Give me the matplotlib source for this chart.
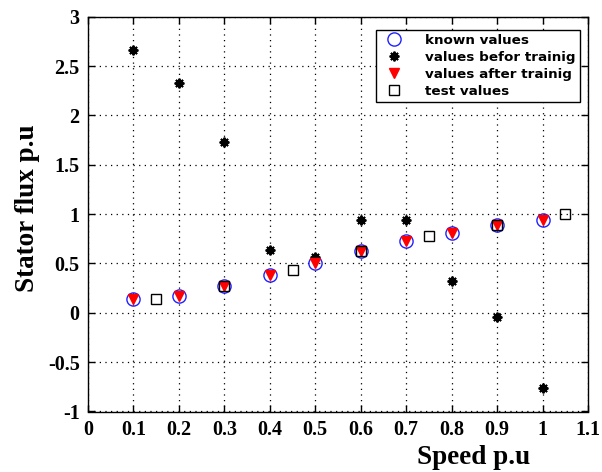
import matplotlib
matplotlib.use("Agg")
import matplotlib.pyplot as plt

# Data
speed = [0.1, 0.2, 0.3, 0.4, 0.5, 0.6, 0.7, 0.8, 0.9, 1.0]
known_flux = [0.142, 0.166, 0.27, 0.38, 0.504, 0.626, 0.727, 0.81, 0.886, 0.94]
before_flux = [2.664, 2.327, 1.734, 0.636, 0.568, 0.94, 0.94, 0.32, -0.04, -0.76]
after_flux = [0.142, 0.166, 0.27, 0.38, 0.504, 0.626, 0.727, 0.81, 0.886, 0.94]
test_speed = [0.15, 0.3, 0.45, 0.6, 0.75, 0.9, 1.05]
test_flux = [0.142, 0.27, 0.436, 0.626, 0.778, 0.886, 1.0]

x_ticks = [0, 0.1, 0.2, 0.3, 0.4, 0.5, 0.6, 0.7, 0.8, 0.9, 1, 1.1]
x_tick_labels = ["0", "0.1", "0.2", "0.3", "0.4", "0.5", "0.6", "0.7", "0.8", "0.9", "1", "1.1"]
y_ticks = [-1, -0.5, 0, 0.5, 1, 1.5, 2, 2.5, 3]
y_tick_labels = ["-1", "-0.5", "0", "0.5", "1", "1.5", "2", "2.5", "3"]

W, H = 602, 472
fig = plt.figure(figsize=(W / 100, H / 100), dpi=100)
ax = fig.add_axes([88 / W, 1 - 411.5 / H, (588 - 88) / W, (411.5 - 16.7) / H])

ax.plot(speed, known_flux, linestyle="none", marker="o", markersize=9.5,
        markerfacecolor="none", markeredgecolor="#2020ff", markeredgewidth=1.0,
        label="known values")
ax.plot(speed, before_flux, linestyle="none", marker=(8, 2, 0), markersize=7,
        color="black", markeredgewidth=1.4, label="values befor trainig")
ax.plot(speed, after_flux, linestyle="none", marker="v", markersize=6.5,
        color="red", markeredgecolor="red", label="values after trainig")
ax.plot(test_speed, test_flux, linestyle="none", marker="s", markersize=7.5,
        markerfacecolor="none", markeredgecolor="black", markeredgewidth=1.0,
        label="test values")

ax.set_xlim(0, 1.1)
ax.set_ylim(-1, 3)
ax.set_xticks(x_ticks)
ax.set_xticklabels(x_tick_labels)
ax.set_yticks(y_ticks)
ax.set_yticklabels(y_tick_labels)

ax.grid(True, linestyle=(0, (1, 3.5)), color="black", linewidth=0.9)
ax.tick_params(direction="in", length=5, width=1, top=True, right=True, pad=6)
for lab in ax.get_xticklabels() + ax.get_yticklabels():
    lab.set_fontfamily("Liberation Serif")
    lab.set_fontweight("bold")
    lab.set_fontsize(14.5)
for sp in ax.spines.values():
    sp.set_linewidth(1.0)

fig.text(474 / W, 1 - 458 / H, "Speed p.u", fontfamily="Liberation Serif",
         fontweight="bold", fontsize=19.5, ha="center", va="center")
fig.text(28 / W, 1 - 208 / H, "Stator flux p.u", fontfamily="Liberation Serif",
         fontweight="bold", fontsize=19.5, ha="center", va="center", rotation=90)

leg = ax.legend(loc="upper right", bbox_to_anchor=((580 - 88) / 500, (411.5 - 30) / (411.5 - 16.7)),
                frameon=True, fancybox=False, edgecolor="black", framealpha=1,
                prop={"family": "DejaVu Sans", "weight": "bold", "size": 9.7},
                handletextpad=1.2, labelspacing=0.3, borderpad=0.3, handlelength=2.2,
                borderaxespad=0)
leg.get_frame().set_linewidth(1.0)

fig.savefig("out.png", dpi=100)
